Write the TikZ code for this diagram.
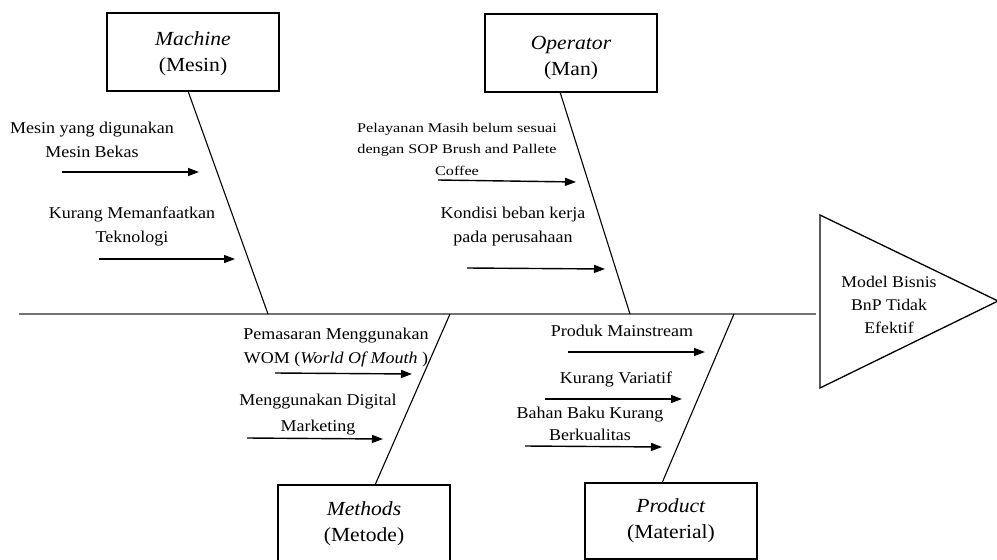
\documentclass[tikz,border=0pt]{standalone}
\usepackage{fontspec}
\setmainfont{Liberation Serif}
\newfontfamily\lblfont[FakeStretch=1.09]{Liberation Serif}
\newfontfamily\smlfont[FakeStretch=1.22]{Liberation Serif}
\newfontfamily\boxfont[FakeStretch=1.08]{Liberation Serif}
\usetikzlibrary{arrows.meta}
\begin{document}
\begin{tikzpicture}[x=1pt,y=-1pt,
  catbox/.style={draw, line width=1.2pt, minimum width=172pt, inner sep=0pt,
    font=\boxfont\fontsize{20}{26}\selectfont, align=center},
  lbl/.style={font=\lblfont\fontsize{16.5}{24}\selectfont, align=center, anchor=base, inner sep=0pt},
  sml/.style={font=\smlfont\fontsize{13.3}{21.5}\selectfont, align=center, anchor=base, inner sep=0pt},
  bone/.style={line width=1.1pt},
  cause/.style={line width=1.4pt, -{Triangle[length=11pt,width=8pt]}},
  spine/.style={line width=2pt, draw=black!55}]
\useasboundingbox (0,0) rectangle (997,560);
\clip (0,0) rectangle (997,560);
\fill[white] (0,0) rectangle (997,560);

% spine and head
\coordinate (tail) at (19,314);
\coordinate (head) at (816,314);
\draw[spine] (tail) -- (head);
\coordinate (t1) at (820,215);
\coordinate (t2) at (998,301);
\coordinate (t3) at (820,388);
\draw[line width=1.3pt, line join=miter] (t1) -- (t2) -- (t3) -- cycle;
\node[lbl, font=\lblfont\fontsize{16.3}{23}\selectfont] (effect) at (889,333) {Model Bisnis\\BnP Tidak\\Efektif};

% category boxes
\node[catbox, minimum height=78pt] (mach) at (193,52) {\rule{0pt}{17pt}\textit{Machine}\\(Mesin)};
\node[catbox, minimum height=78pt] (oper) at (571,53) {\rule{0pt}{24pt}\textit{Operator}\\(Man)};
\node[catbox, minimum height=78pt] (meth) at (364,524) {\textit{Methods}\\(Metode)};
\node[catbox, minimum height=76pt] (prod) at (671,521) {\textit{Product}\\(Material)};

% bones
\coordinate (machtop) at (188,91);
\coordinate (machend) at (268,314);
\coordinate (opertop) at (560,92);
\coordinate (operend) at (630,314);
\coordinate (methtop) at (375,485);
\coordinate (methend) at (450,314);
\coordinate (prodtop) at (662,483);
\coordinate (prodend) at (734,314);
\draw[bone] (machtop) -- (machend);
\draw[bone] (opertop) -- (operend);
\draw[bone] (methtop) -- (methend);
\draw[bone] (prodtop) -- (prodend);

% cause arrows
\coordinate (a1s) at (62,172);  \coordinate (a1e) at (199,172);
\coordinate (a2s) at (99,259);  \coordinate (a2e) at (235,259);
\coordinate (b1s) at (438,180); \coordinate (b1e) at (576,182);
\coordinate (b2s) at (467,268); \coordinate (b2e) at (605,269);
\coordinate (c1s) at (275,373); \coordinate (c1e) at (412,374);
\coordinate (c2s) at (247,438); \coordinate (c2e) at (383,439);
\coordinate (d1s) at (568,352); \coordinate (d1e) at (705,352);
\coordinate (d2s) at (545,399); \coordinate (d2e) at (682,399);
\coordinate (d3s) at (525,446); \coordinate (d3e) at (662,447);
\foreach \p in {a1,a2,b1,b2,c1,c2,d1,d2,d3}
  \draw[cause] (\p s) -- (\p e);

% cause labels (anchored at the baseline of their last line)
\node[lbl] (la1) at (92,157) {Mesin yang digunakan\\Mesin Bekas};
\node[lbl] (la2) at (132,242) {Kurang Memanfaatkan\\Teknologi};
\node[sml] (lb1) at (457,175) {Pelayanan Masih belum sesuai\\dengan SOP Brush and Pallete\\Coffee};
\node[lbl] (lb2) at (513,242) {Kondisi beban kerja\\pada perusahaan};
\node[lbl] (lc1) at (336,363) {Pemasaran Menggunakan\\WOM (\textit{World Of Mouth })};
\node[lbl, font=\lblfont\fontsize{16.5}{26}\selectfont] (lc2) at (318,431) {Menggunakan Digital\\Marketing};
\node[lbl] (ld1) at (622,336) {Produk Mainstream};
\node[lbl] (ld2) at (616,383) {Kurang Variatif};
\node[lbl, font=\lblfont\fontsize{16.5}{22}\selectfont] (ld3) at (590,440) {Bahan Baku Kurang\\Berkualitas};
\end{tikzpicture}
\end{document}
